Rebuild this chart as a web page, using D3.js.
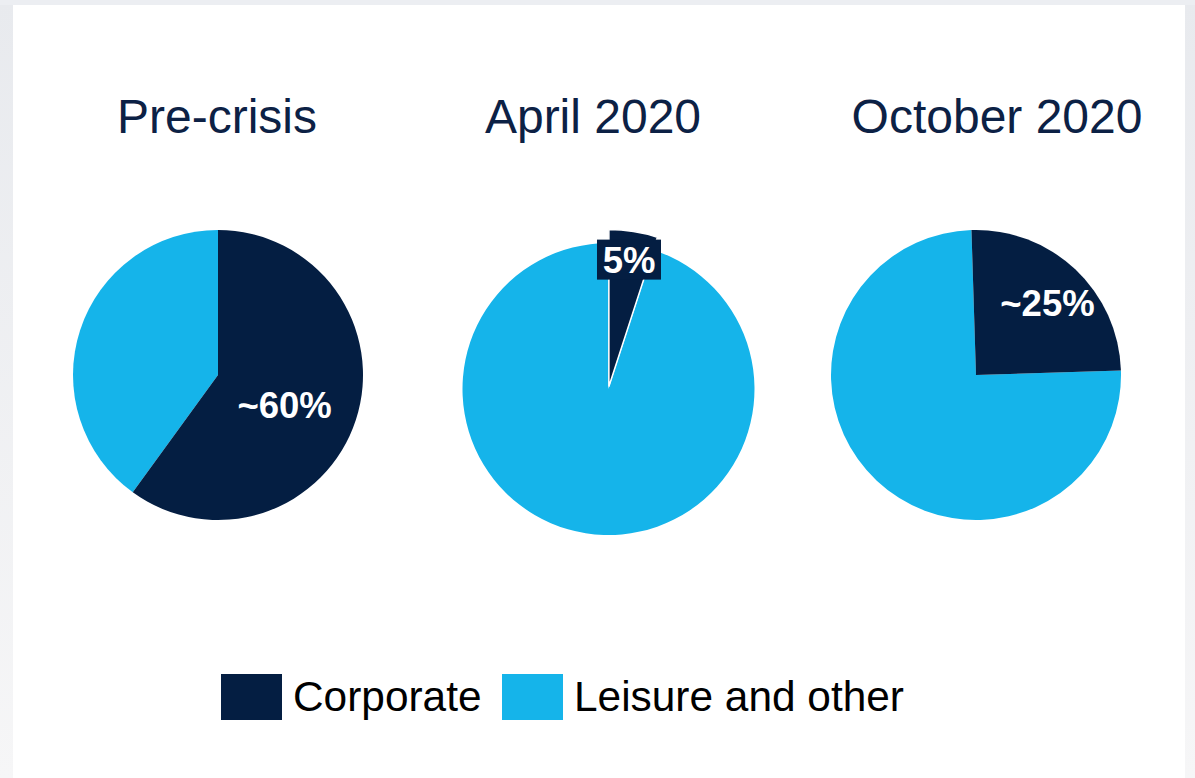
<!DOCTYPE html>
<html>
<head>
<meta charset="utf-8">
<script src="https://cdn.jsdelivr.net/npm/d3@7"></script>
<style>
  html, body { margin: 0; padding: 0; background: #ffffff; }
  svg { display: block; }
</style>
</head>
<body>
<svg id="chart" width="1195" height="778"></svg>
<script>
// Share of business by segment at three points in time
const periods = ["Pre-crisis", "April 2020", "October 2020"];
const segments = ["Corporate", "Leisure and other"];
const corporateShare = [60, 5, 25];
const leisureShare = [40, 95, 75];
const labelText = ["~60%", "5%", "~25%"];

const colors = { "Corporate": "#041e42", "Leisure and other": "#15b4ea" };

const W = 1195, H = 778;
const svg = d3.select("#chart");

// page backdrop and white panel
const defs = svg.append("defs");
const grad = defs.append("linearGradient").attr("id", "edge").attr("x1", 0).attr("y1", 0).attr("x2", 0).attr("y2", 1);
grad.append("stop").attr("offset", "0%").attr("stop-color", "#e8eaee");
grad.append("stop").attr("offset", "100%").attr("stop-color", "#f6f6f7");
svg.append("rect").attr("width", W).attr("height", H).attr("fill", "url(#edge)");
svg.append("rect").attr("x", 0).attr("y", 0).attr("width", W).attr("height", 5).attr("fill", "#eceef2");
svg.append("rect").attr("x", 13).attr("y", 5).attr("width", 1172).attr("height", H - 5).attr("fill", "#ffffff");

// layout for each pie
const layout = [
  { cx: 218,   cy: 375, r: 145, titleX: 217, rot: 0,    labelR: 70,  nudge: [0, 8],  explode: 0,   bigR: 0 },
  { cx: 608.5, cy: 389, r: 146, titleX: 593, rot: 0,    labelR: 131, nudge: [0, 0],  explode: 2.5, bigR: 157 },
  { cx: 976,   cy: 375, r: 145, titleX: 997, rot: -1.8, labelR: 100, nudge: [3, 1],  explode: 0,   bigR: 0 }
];

const pie = d3.pie().sort(null).value(d => d.value);
const toRad = deg => deg * Math.PI / 180;

periods.forEach((p, i) => {
  const L = layout[i];
  const data = [
    { key: segments[0], value: corporateShare[i] },
    { key: segments[1], value: leisureShare[i] }
  ];
  pie.startAngle(toRad(L.rot)).endAngle(toRad(L.rot) + 2 * Math.PI);
  const arcs = pie(data);

  // title
  svg.append("text")
    .attr("x", L.titleX).attr("y", 133)
    .attr("text-anchor", "middle")
    .attr("font-family", "Liberation Sans, Arial, sans-serif")
    .attr("font-size", 48)
    .attr("fill", "#0c2145")
    .text(p);

  const g = svg.append("g").attr("transform", `translate(${L.cx},${L.cy})`);
  const arc = d3.arc().innerRadius(0).outerRadius(L.r);

  // leisure slice first, corporate on top
  g.append("path")
    .attr("d", arc(arcs[1]))
    .attr("fill", colors[segments[1]]);

  const corp = arcs[0];
  const mid = (corp.startAngle + corp.endAngle) / 2;
  if (L.explode > 0) {
    const bigArc = d3.arc().innerRadius(0).outerRadius(L.bigR);
    g.append("path")
      .attr("d", bigArc(corp))
      .attr("transform", `translate(${L.explode * Math.sin(mid)},${-L.explode * Math.cos(mid)})`)
      .attr("fill", colors[segments[0]])
      .attr("stroke", "#ffffff")
      .attr("stroke-width", 1.5)
      .attr("stroke-linejoin", "miter");
  } else {
    g.append("path")
      .attr("d", arc(corp))
      .attr("fill", colors[segments[0]]);
  }

  // value label
  const labelArc = d3.arc().innerRadius(L.labelR).outerRadius(L.labelR);
  const [lx, ly] = labelArc.centroid(corp);
  const tx = lx + L.nudge[0], ty = ly + L.nudge[1];
  if (L.explode > 0) {
    g.append("rect")
      .attr("x", tx - 32).attr("y", ty - 20)
      .attr("width", 64).attr("height", 40)
      .attr("fill", colors[segments[0]]);
  }
  g.append("text")
    .attr("x", tx).attr("y", ty)
    .attr("dy", "0.36em")
    .attr("text-anchor", "middle")
    .attr("font-family", "Liberation Sans, Arial, sans-serif")
    .attr("font-weight", "bold")
    .attr("font-size", 36.5)
    .attr("fill", "#ffffff")
    .text(labelText[i]);
});

// legend
const legendX = [221, 502];
const legend = svg.append("g");
segments.forEach((s, i) => {
  legend.append("rect")
    .attr("x", legendX[i]).attr("y", 674)
    .attr("width", 61).attr("height", 46)
    .attr("fill", colors[s]);
  legend.append("text")
    .attr("x", legendX[i] + 72).attr("y", 711)
    .attr("font-family", "Liberation Sans, Arial, sans-serif")
    .attr("font-size", 42.4)
    .attr("fill", "#000000")
    .text(s);
});
</script>
</body>
</html>
